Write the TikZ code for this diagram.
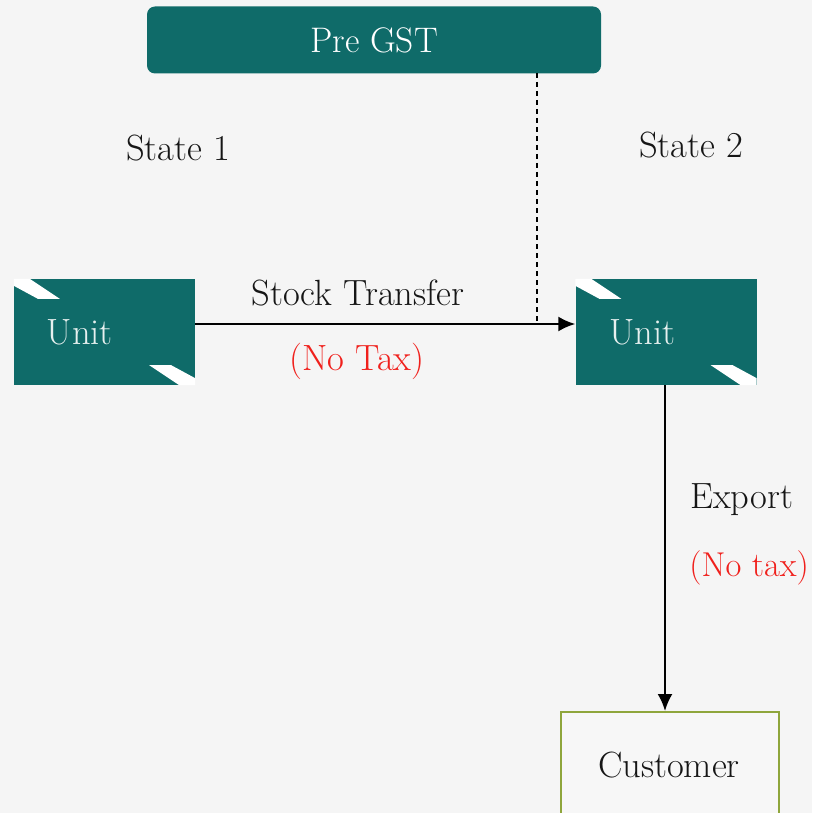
\documentclass[tikz,border=0pt]{standalone}
\usetikzlibrary{arrows.meta,positioning}
\definecolor{teal}{HTML}{0F6B69}
\definecolor{bgpaper}{HTML}{F5F5F5}
\definecolor{olive}{HTML}{8FA63C}
\definecolor{inkgray}{HTML}{161616}
\definecolor{taxred}{HTML}{F0201C}
\definecolor{unitwhite}{HTML}{E6F0EF}
\tikzset{
  txt/.style={font=\rmfamily\fontsize{36.5}{42}\selectfont, text=inkgray, inner sep=0pt},
  redtxt/.style={txt, text=taxred},
  header/.style={fill=teal, rounded corners=8pt, minimum width=454pt, minimum height=67pt, inner sep=0pt,
                 text=white, font=\rmfamily\fontsize{35.5}{42}\selectfont},
  unitbox/.style={fill=teal, minimum width=181pt, minimum height=106pt, inner sep=0pt},
  unittxt/.style={txt, text=unitwhite},
  custbox/.style={draw=olive, line width=2pt, fill=white!97!black, minimum width=218pt, minimum height=140pt, inner sep=0pt},
  flow/.style={line width=2.2pt, draw=black, -{Latex[length=17pt,width=15pt]}},
  guide/.style={line width=1.4pt, draw=black, dash pattern=on 5pt off 4pt},
  fold/.style={fill=white}
}
\begin{document}
\begin{tikzpicture}[x=1pt,y=-1pt]
  \useasboundingbox (0,0) rectangle (812,813);
  \fill[bgpaper] (0,0) rectangle (812,813);
  \clip (0,0) rectangle (812,813);

  % header banner
  \node[header] (pre) at (374,40) {Pre GST};

  % state captions
  \node[txt] (s1) at (178,148) {State 1};
  \node[txt] (s2) at (691,145) {State 2};

  % the two units
  \node[unitbox] (u1) at (104.5,332) {};
  \node[unitbox] (u2) at (666,332) {};
  \foreach \u in {u1,u2}{
    \fill[fold] (\u.north west) -- ++(16,0) -- ++(30,20) -- ++(-22,0) -- ++(-24,-13) -- cycle;
    \fill[fold] (\u.south east) -- ++(-16,0) -- ++(-30,-20) -- ++(22,0) -- ++(24,13) -- cycle;
  }
  \node[unittxt] (u1t) at ([xshift=66pt]u1.west) {Unit};
  \node[unittxt] (u2t) at ([xshift=67pt]u2.west) {Unit};

  % customer
  \node[custbox] (cust) at (669.5,782) {};
  \node[txt] (custt) at (669,765) {Customer};

  % connectors
  \coordinate (dtop) at (537,73);
  \coordinate (dbot) at (537,324);
  \draw[guide] (dtop) -- (dbot);
  \draw[flow] (u1.east |- 0,324) -- (u2.west |- 0,324);
  \draw[flow] (u2.south -| 665,0) -- (cust.north -| 665,0);

  % connector labels
  \node[txt] (st) at (358,293) {Stock Transfer};
  \node[redtxt] (nt1) at (357,361) {(No Tax)};
  \node[txt, anchor=west] (ex) at (690,500) {Export};
  \node[redtxt, anchor=east, font=\rmfamily\fontsize{34.5}{42}\selectfont] (nt2) at (809,568) {(No tax)};
\end{tikzpicture}
\end{document}
